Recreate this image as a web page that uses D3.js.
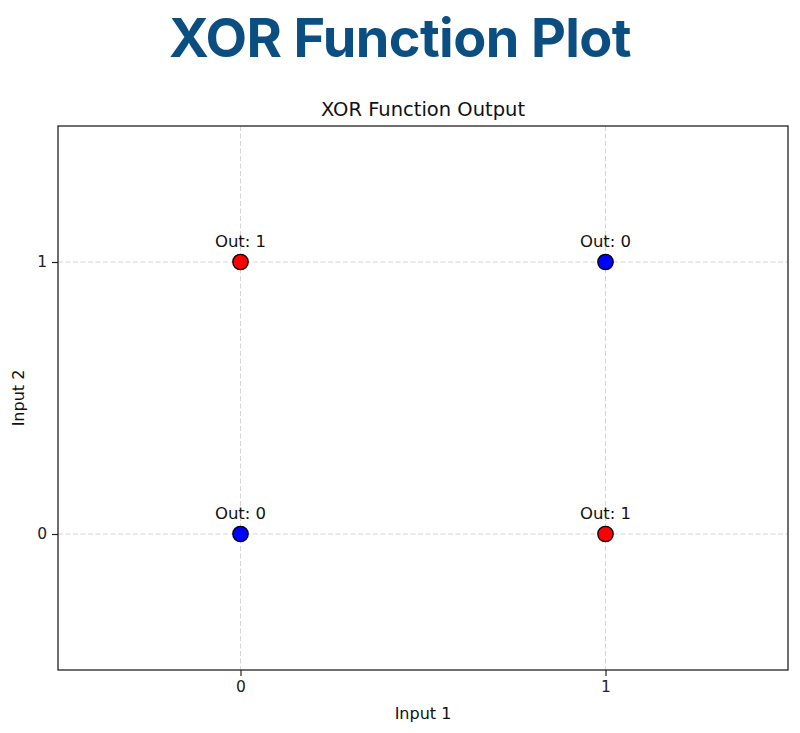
<!DOCTYPE html>
<html><head><meta charset="utf-8">
<script src="https://cdn.jsdelivr.net/npm/d3@7"></script>
<style>body{margin:0;background:#fff;}</style>
</head><body>
<svg id="chart" width="800" height="733"></svg>
<script>
const input1 = [0, 0, 1, 1];
const input2 = [0, 1, 0, 1];
const outputs = [0, 1, 1, 0];
const xTicks = [0, 1];
const yTicks = [0, 1];
const pointColors = ["blue", "red"];

const svg = d3.select("#chart");
const m = {l: 58, r: 788, t: 126, b: 670};
const x = d3.scaleLinear().domain([-0.5, 1.5]).range([m.l, m.r]);
const y = d3.scaleLinear().domain([-0.5, 1.5]).range([m.b, m.t]);
const font = "DejaVu Sans, sans-serif";

svg.append("text").attr("x", 400).attr("y", 57).attr("text-anchor", "middle")
  .style("font-family", "Inter, sans-serif").style("font-weight", 700)
  .style("font-size", "54px").style("fill", "#0b4f82").style("letter-spacing", "-0.6px")
  .text("XOR Function Plot");

// grid
const g = svg.append("g");
g.selectAll(".gx").data(xTicks).join("line")
  .attr("x1", d => x(d)).attr("x2", d => x(d)).attr("y1", m.t).attr("y2", m.b)
  .attr("stroke", "#d6d6d6").attr("stroke-width", 1).attr("stroke-dasharray", "5,2.5");
g.selectAll(".gy").data(yTicks).join("line")
  .attr("y1", d => y(d)).attr("y2", d => y(d)).attr("x1", m.l).attr("x2", m.r)
  .attr("stroke", "#d6d6d6").attr("stroke-width", 1).attr("stroke-dasharray", "5,2.5");

// axes
const xa = svg.append("g").attr("transform", `translate(0,${m.b})`)
  .call(d3.axisBottom(x).tickValues(xTicks).tickFormat(d3.format("d")).tickSize(6).tickPadding(5));
const ya = svg.append("g").attr("transform", `translate(${m.l},0)`)
  .call(d3.axisLeft(y).tickValues(yTicks).tickFormat(d3.format("d")).tickSize(6).tickPadding(5));
[xa, ya].forEach(a => {
  a.select(".domain").remove();
  a.selectAll("text").style("font-family", font).style("font-size", "15.5px").attr("fill", "#222");
  a.selectAll("line").attr("stroke", "#222").attr("stroke-width", 1.2);
});

svg.append("rect").attr("x", m.l).attr("y", m.t).attr("width", m.r - m.l).attr("height", m.b - m.t)
  .attr("fill", "none").attr("stroke", "#222").attr("stroke-width", 1.3);

// points
const data = input1.map((d, i) => ({a: d, b: input2[i], o: outputs[i]}));
svg.selectAll(".pt").data(data).join("circle")
  .attr("cx", d => x(d.a)).attr("cy", d => y(d.b)).attr("r", 7.7)
  .attr("fill", d => pointColors[d.o]).attr("stroke", "#000").attr("stroke-width", 1.3);
svg.selectAll(".lab").data(data).join("text")
  .attr("x", d => x(d.a)).attr("y", d => y(d.b) - 15).attr("text-anchor", "middle")
  .style("font-family", font).style("font-size", "16.5px").attr("fill", "#111")
  .text(d => "Out: " + d.o);

svg.append("text").attr("x", (m.l + m.r) / 2).attr("y", 116).attr("text-anchor", "middle")
  .style("font-family", font).style("font-size", "19.5px").attr("fill", "#111").text("XOR Function Output");
svg.append("text").attr("x", (m.l + m.r) / 2).attr("y", 719).attr("text-anchor", "middle")
  .style("font-family", font).style("font-size", "16px").attr("fill", "#111").text("Input 1");
svg.append("text").attr("transform", `translate(24,${(m.t + m.b) / 2}) rotate(-90)`).attr("text-anchor", "middle")
  .style("font-family", font).style("font-size", "16px").attr("fill", "#111").text("Input 2");
</script>
</body></html>
